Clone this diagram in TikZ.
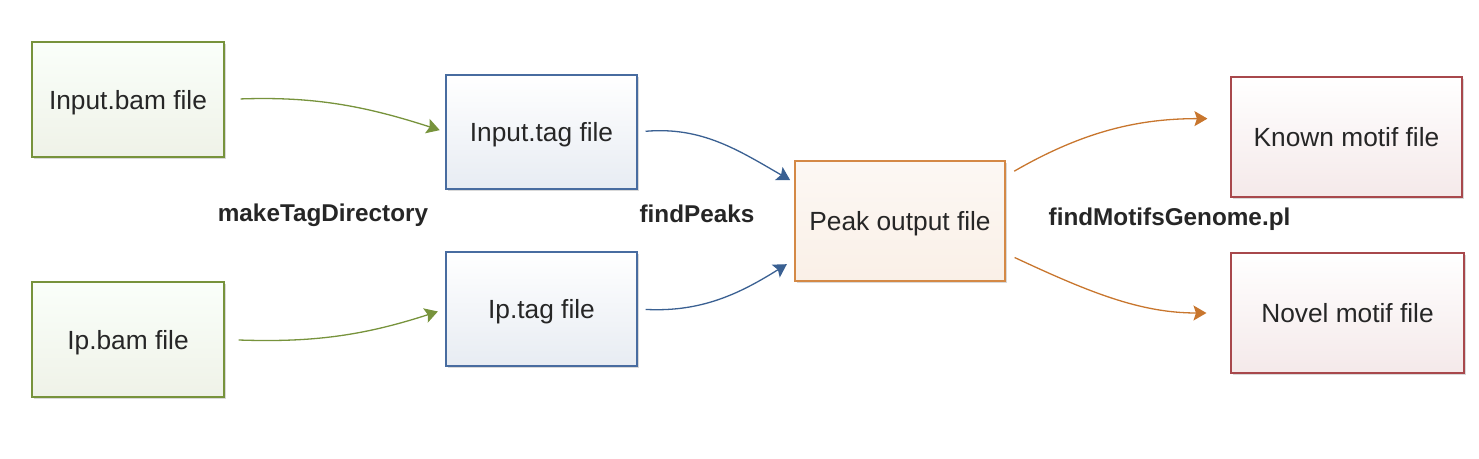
\documentclass[tikz,border=0pt]{standalone}
\usepackage{fontspec}
\setmainfont{Liberation Sans}
\usepackage{xcolor}
\definecolor{bam_green}{RGB}{119,147,60}
\definecolor{tag_blue}{RGB}{72,108,160}
\definecolor{arr_blue}{RGB}{58,96,146}
\definecolor{peak_orange}{RGB}{212,137,70}
\definecolor{arr_orange}{RGB}{200,118,46}
\definecolor{motif_red}{RGB}{168,72,76}
\definecolor{txt_grey}{RGB}{38,38,38}
\usetikzlibrary{arrows.meta, shadows}

\tikzset{
  filebox/.style={draw, line width=1.1pt, text=txt_grey,
    font=\fontsize{26.3}{30}\selectfont, text depth=0pt,
    drop shadow={shadow xshift=2pt, shadow yshift=-2pt, opacity=0.25, fill=black!60}},
  toolname/.style={text=txt_grey, font=\fontsize{24.3}{28}\selectfont\bfseries, text depth=0pt},
  flow/.style={line width=1.3pt, -{Stealth[length=13pt,width=15pt,inset=2.5pt]}}
}

\begin{document}
\begin{tikzpicture}[x=1pt,y=-1pt]
            \useasboundingbox (0,0) rectangle (1479,458);
            %bamファイル
            \node[filebox, draw=bam_green, top color=green!2!white, bottom color=bam_green!12!white,
              minimum width=192, minimum height=115] (inbam) at (128,99.5) {Input.bam file};
            \node[filebox, draw=bam_green, top color=green!2!white, bottom color=bam_green!12!white,
              minimum width=192, minimum height=115] (ipbam) at (128,339.5) {Ip.bam file};
            %tagファイル
            \node[filebox, draw=tag_blue, top color=white, bottom color=tag_blue!13!white,
              minimum width=191, minimum height=114] (intag) at (541.5,132) {Input.tag file};
            \node[filebox, draw=tag_blue, top color=white, bottom color=tag_blue!13!white,
              minimum width=191, minimum height=114] (iptag) at (541.5,309) {Ip.tag file};
            %ピーク
            \node[filebox, draw=peak_orange, top color=peak_orange!6!white, bottom color=peak_orange!13!white,
              minimum width=210, minimum height=120] (peak) at (900,221) {Peak output file};
            %モチーフ
            \node[filebox, draw=motif_red, top color=white, bottom color=motif_red!12!white,
              minimum width=231, minimum height=120] (known) at (1346.5,137) {Known motif file};
            \node[filebox, draw=motif_red, top color=white, bottom color=motif_red!12!white,
              minimum width=233, minimum height=120] (novel) at (1347.5,313) {Novel motif file};
            %コマンド名
            \node[toolname] (maketag) at (323,213) {makeTagDirectory};
            \node[toolname] (findpk) at (697,214) {findPeaks};
            \node[toolname] (findmt) at (1169.5,217) {findMotifsGenome.pl};
            %矢印
            \draw[flow, bam_green, shorten <=16pt, shorten >=6pt] (inbam.east) to[out=2, in=162] (intag.west);
            \draw[flow, bam_green, shorten <=14pt, shorten >=8pt] (ipbam.east) to[out=-2, in=198] (iptag.west);
            \draw[flow, arr_blue, shorten <=8pt, shorten >=5pt] (intag.east) to[out=5, in=150] (peak.160);
            \draw[flow, arr_blue, shorten <=8pt, shorten >=9pt] (iptag.east) to[out=-3, in=212] (peak.200);
            \draw[flow, arr_orange, shorten <=10pt, shorten >=23pt] (peak.23) to[out=30, in=180] (known.171);
            \draw[flow, arr_orange, shorten <=10pt, shorten >=24pt] (peak.-17) to[out=-25, in=180] (novel.west);
        \end{tikzpicture}
\end{document}
